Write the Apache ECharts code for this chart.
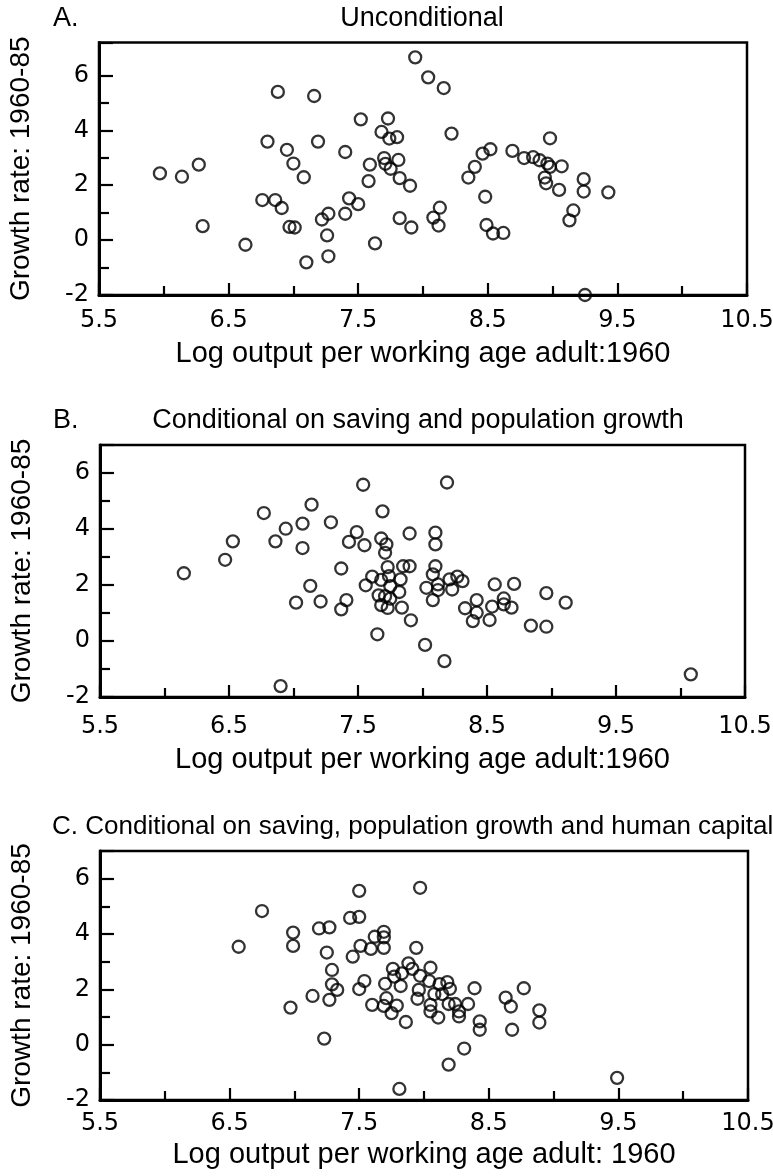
<!DOCTYPE html>
<html>
<head>
<meta charset="utf-8">
<script src="https://cdn.jsdelivr.net/npm/echarts@6/dist/echarts.min.js"></script>
<style>
html,body{margin:0;padding:0;background:#fff;}
#chart{width:773px;height:1176px;}
</style>
</head>
<body>
<div id="chart"></div>
<script>
// ---------------- data ----------------
const panelLetters = ['A.', 'B.', ''];
const panelTitles = [
  'Unconditional',
  'Conditional on saving and population growth',
  'C. Conditional on saving, population growth and human capital'
];
const xAxisNames = [
  'Log output per working age adult:1960',
  'Log output per working age adult:1960',
  'Log output per working age adult: 1960'
];
const yAxisName = 'Growth rate: 1960-85';
const xMin = 5.5, xMax = 10.5, xStep = 1;      // labels 5.5 ... 10.5
const yMajorTicks = [-2, 0, 2, 4, 6];
const yMinorTicks = [-1, 1, 3, 5];
const yMin = -2;
const yMaxes = [7.2, 7, 7];

// Panel A: unconditional
const unconditional = [
  [5.97,2.43],[6.14,2.31],[6.27,2.75],[6.30,0.51],[6.63,-0.17],[6.76,1.46],[6.80,3.59],[6.88,5.40],
  [6.86,1.46],[6.91,1.17],[6.95,3.29],[7.00,2.79],[6.97,0.48],[7.01,0.46],[7.08,2.29],[7.10,-0.81],
  [7.16,5.25],[7.19,3.59],[7.22,0.75],[7.27,0.96],[7.26,0.17],[7.27,-0.59],[7.40,3.21],[7.40,0.96],
  [7.43,1.52],[7.50,1.31],[7.52,4.40],[7.59,2.75],[7.58,2.15],[7.63,-0.12],[7.68,3.94],[7.73,4.43],
  [7.70,2.99],[7.71,2.78],[7.75,2.60],[7.74,3.70],[7.80,3.75],[7.81,2.92],[7.82,2.26],[7.90,1.98],
  [7.82,0.80],[7.91,0.46],[7.94,6.66],[8.04,5.93],[8.16,5.54],[8.22,3.88],[8.08,0.82],[8.13,1.18],
  [8.12,0.53],[8.35,2.28],[8.40,2.67],[8.46,3.15],[8.52,3.31],[8.48,1.58],[8.49,0.55],[8.54,0.24],
  [8.62,0.26],[8.69,3.25],[8.78,2.99],[8.85,3.02],[8.90,2.91],[8.96,2.79],[8.98,2.67],[8.98,3.71],
  [9.07,2.69],[8.94,2.28],[8.95,2.07],[9.05,1.83],[9.16,1.08],[9.13,0.72],[9.24,2.22],[9.24,1.77],
  [9.43,1.74],[9.25,-2.0]
];

// Panel B: conditional on saving and population growth
const condSavingPop = [
  [6.15,2.42],[6.47,2.90],[6.53,3.56],[6.77,4.57],[6.86,3.56],[6.94,4.01],[7.07,4.19],[7.07,3.32],
  [7.14,4.87],[7.13,1.97],[7.02,1.37],[7.21,1.41],[6.90,-1.61],[7.29,4.24],
  [7.37,2.59],[7.37,1.13],[7.41,1.46],[7.43,3.54],[7.49,3.89],[7.54,5.58],[7.55,3.42],[7.56,1.99],
  [7.61,2.30],[7.65,0.24],[7.66,1.63],[7.68,2.18],[7.68,1.28],[7.68,3.66],[7.69,4.63],[7.71,3.15],
  [7.72,3.45],[7.71,1.60],[7.73,2.64],[7.73,1.18],[7.74,2.32],[7.75,1.96],[7.75,1.51],[7.82,1.75],
  [7.83,2.20],[7.84,1.19],[7.85,2.67],[7.90,2.67],[7.90,3.84],[7.91,0.74],[8.03,1.90],[8.08,2.38],
  [8.08,1.46],[8.10,3.87],[8.10,3.45],[8.10,2.67],[8.12,2.02],[8.12,1.82],[8.19,5.66],[8.21,2.20],
  [8.23,1.84],[8.27,2.30],[8.31,2.14],[8.33,1.17],[8.39,0.71],[8.42,1.46],[8.42,1.01],[8.52,0.75],
  [8.54,1.23],[8.56,2.02],[8.63,1.52],[8.63,1.31],[8.69,1.19],
  [8.71,2.04],[8.84,0.55],[8.96,1.71],[8.96,0.51],[9.11,1.37],[10.08,-1.19],[8.02,-0.14],[8.17,-0.72]
];

// Panel C: conditional on saving, population growth and human capital
const condSavingPopHuman = [
  [6.57,3.54],[6.75,4.83],[6.99,4.05],[6.99,3.57],[6.97,1.34],[7.19,4.20],[7.27,4.24],[7.25,3.33],
  [7.29,2.70],[7.29,2.18],[7.33,1.98],[7.27,1.62],[7.14,1.76],[7.23,0.22],
  [7.43,4.58],[7.50,4.62],[7.50,5.56],[7.45,3.18],[7.51,3.57],[7.59,3.46],[7.62,3.90],[7.69,4.08],
  [7.69,3.88],[7.69,3.50],[7.94,3.50],[7.76,2.74],[7.88,2.94],[7.91,2.74],[8.05,2.78],[7.83,2.58],
  [7.77,2.46],[7.97,2.49],[7.54,2.30],[7.50,2.01],[7.70,2.20],[7.82,2.12],[8.04,2.30],[8.12,2.19],
  [8.18,2.26],[8.20,2.02],[7.96,1.98],[8.08,1.83],[8.14,1.83],[7.71,1.68],[7.95,1.66],[8.39,2.04],
  [7.60,1.44],[7.69,1.40],[7.79,1.41],[7.75,1.14],[8.05,1.44],[8.05,1.20],[8.11,0.98],[8.19,1.47],
  [8.24,1.47],[8.27,1.20],[8.27,1.02],[8.34,1.47],[7.86,0.82],[8.43,0.84],[8.43,0.54],
  [7.97,5.67],[7.81,-1.60],[8.31,-0.14],[8.19,-0.72],[8.63,1.70],[8.67,1.38],[8.77,2.04],[8.68,0.54],
  [8.89,1.24],[8.89,0.80],[9.49,-1.20]
];

const seriesData = [unconditional, condSavingPop, condSavingPopHuman];

// ---------------- layout / style ----------------
const FONT = '"Liberation Sans", Arial, sans-serif';
const TICKFONT = '"DejaVu Sans", "Liberation Sans", sans-serif';
const grids = [
  {left: 99,  top: 42.5, width: 648, height: 252.5},
  {left: 100, top: 445,  width: 645, height: 252},
  {left: 100, top: 851,  width: 648, height: 249}
];
const xLabelMargins = [14, 18, 12];
const xNameGaps = [44, 48, 40];
const titleLayout = [
  {letterX: 53, titleX: 422, y: 19, align: 'center'},
  {letterX: 53, titleX: 418, y: 421, align: 'center'},
  {letterX: 53, titleX: 52,  y: 827, align: 'left'}
];

const black = '#000';
const option = {
  animation: false,
  backgroundColor: '#fff',
  grid: grids.map(g => Object.assign({
    show: true, borderColor: black, borderWidth: 2.5, backgroundColor: 'transparent',
    containLabel: false, outerBoundsMode: 'none'
  }, g)),
  xAxis: grids.map((g, i) => ({
    type: 'value', gridIndex: i, min: xMin, max: xMax, interval: xStep,
    axisLine: {show: true, onZero: false, lineStyle: {color: black, width: 3}},
    axisTick: {show: true, inside: true, length: 12, lineStyle: {color: black, width: 2.2}},
    minorTick: {show: true, splitNumber: 2, length: 9, lineStyle: {color: black, width: 2.2}},
    splitLine: {show: false},
    axisLabel: {
      show: true, margin: xLabelMargins[i], color: black, fontSize: 24, fontFamily: TICKFONT,
      formatter: v => v.toFixed(1)
    },
    name: xAxisNames[i], nameLocation: 'middle', nameGap: xNameGaps[i],
    nameTextStyle: {color: black, fontSize: 29, fontFamily: FONT}
  })),
  yAxis: [].concat(...grids.map((g, i) => [
    {
      type: 'value', gridIndex: i, position: 'left', min: yMin, max: yMaxes[i], interval: 2,
      axisLine: {show: true, onZero: false, lineStyle: {color: black, width: 3}},
      axisTick: {show: true, inside: true, length: 14, lineStyle: {color: black, width: 2.2}},
      splitLine: {show: false},
      axisLabel: {
        show: true, margin: 10, color: black, fontSize: 24, fontFamily: TICKFONT,
        customValues: yMajorTicks
      },
      name: yAxisName, nameLocation: 'middle', nameRotate: 90, nameGap: 64,
      nameTextStyle: {color: black, fontSize: 28, fontFamily: FONT}
    },
    {
      type: 'value', gridIndex: i, position: 'left', min: yMin, max: yMaxes[i], interval: 1,
      axisLine: {show: false},
      axisTick: {show: true, inside: true, length: 10, customValues: yMinorTicks,
                 lineStyle: {color: black, width: 2.2}},
      axisLabel: {show: false},
      splitLine: {show: false}
    }
  ])),
  series: seriesData.map((d, i) => ({
    type: 'scatter', xAxisIndex: i, yAxisIndex: 2 * i, data: d,
    symbol: 'circle', symbolSize: 12, silent: true,
    itemStyle: {color: 'rgba(0,0,0,0)', borderColor: black, borderWidth: 2.3}
  })),
  graphic: [].concat(...titleLayout.map((t, i) => {
    const els = [];
    if (panelLetters[i]) {
      els.push({type: 'text', silent: true, style: {
        text: panelLetters[i], x: t.letterX, y: t.y, align: 'left', verticalAlign: 'middle',
        font: '27px ' + FONT, fill: black}});
    }
    els.push({type: 'text', silent: true, style: {
      text: panelTitles[i], x: t.titleX, y: t.y, align: t.align, verticalAlign: 'middle',
      font: (i === 2 ? '26px ' : '27px ') + FONT, fill: black}});
    return els;
  }))
};

const chart = echarts.init(document.getElementById('chart'), null, {renderer: 'canvas'});
chart.setOption(option);
</script>
</body>
</html>
